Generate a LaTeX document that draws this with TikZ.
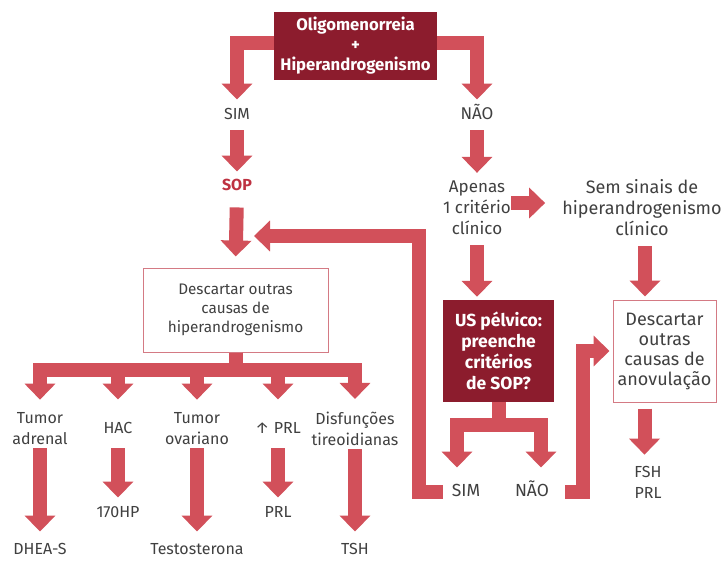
\documentclass[tikz,border=0pt]{standalone}
\usepackage{fontspec}
\setmainfont{Fira Sans}
\usetikzlibrary{arrows.meta}
\definecolor{bandred}{HTML}{D2505A}
\definecolor{darkred}{HTML}{8C1C2D}
\definecolor{sopred}{HTML}{BE3241}
\definecolor{txtgray}{HTML}{404040}
\definecolor{boxline}{HTML}{D47A84}
\begin{document}
\begin{tikzpicture}[x=1pt,y=-1pt,
 band/.style={draw=bandred, line width=14pt, line join=miter, -{Triangle[width=30pt,length=16pt]}},
 lbl/.style={text=txtgray, font=\fontsize{16}{21}\selectfont, align=center, inner sep=0pt},
 big/.style={font=\fontsize{17.5}{21}\selectfont},
 one/.style={text height=11.5pt, text depth=3pt},
 darkbox/.style={fill=darkred, text=white, font=\bfseries\fontsize{16.7}{20}\selectfont, align=center, inner sep=0pt},
 whitebox/.style={draw=boxline, line width=1pt, fill=white, text=txtgray, font=\fontsize{15.3}{19}\selectfont, align=center, inner sep=0pt}]
\useasboundingbox[fill=white] (0,0) rectangle (724,562);

\node[darkbox, minimum width=163pt, minimum height=68pt] (top) at (355.5,46) {Oligomenorreia\\+\\Hiperandrogenismo};
\node[lbl,one] (sim1) at (237,115) {SIM};
\node[lbl,one,font=\fontsize{17}{21}\selectfont] (nao1) at (477,115) {NÃO};
\node[lbl,one, text=sopred, font=\bfseries\fontsize{16}{21}\selectfont] (sop) at (237,186) {SOP};
\node[lbl,font=\fontsize{17}{21}\selectfont] (apenas) at (477,208) {Apenas\\1 critério\\clínico};
\node[lbl,font=\fontsize{18}{21}\selectfont] (sem) at (642,208) {Sem sinais de\\hiperandrogenismo\\clínico};
\node[whitebox, minimum width=185pt, minimum height=84pt] (desc1) at (235.5,310) {Descartar outras\\causas de\\hiperandrogenismo};
\node[darkbox, font=\bfseries\fontsize{17.5}{21}\selectfont, minimum width=111pt, minimum height=102pt] (us) at (498.5,351) {US pélvico:\\preenche\\critérios\\de SOP?};
\node[whitebox, font=\fontsize{18}{20}\selectfont, minimum width=103pt, minimum height=102pt] (desc2) at (664.5,351) {Descartar\\outras\\causas de\\anovulação};
\node[lbl,one,big] (sim2) at (466,492) {SIM};
\node[lbl,one,big] (nao2) at (532,492) {NÃO};
\node[lbl] (fsh) at (648,482) {FSH\\PRL};

\node[lbl] (ta) at (40,429) {Tumor\\adrenal};
\node[lbl,one] (hac) at (118,429) {HAC};
\node[lbl] (tov) at (197,429) {Tumor\\ovariano};
\node[lbl,one] (prl) at (278,429) {↑ PRL};
\node[lbl] (dis) at (355,429) {Disfunções\\tireoidianas};
\node[lbl,one] (dhea) at (40,550) {DHEA-S};
\node[lbl,one] (hp) at (118,513) {170HP};
\node[lbl,one] (testo) at (197,550) {Testosterona};
\node[lbl,one] (prl3) at (278,513) {PRL};
\node[lbl,one] (tsh) at (355,550) {TSH};

\coordinate (bar) at (235.5,369.5);
\coordinate (fork) at (498.5,425);
\coordinate (fbx) at (419,236);
\coordinate (fbtip) at (254,236);

% top
\draw[band, shorten >=8pt] ([yshift=3pt]top.west) -| (sim1.north);
\draw[band, shorten >=8pt] ([yshift=3pt]top.east) -| (nao1.north);
% left column
\draw[band, shorten <=8pt, shorten >=7pt] (sim1.south) -- (sop.north);
\draw[band, shorten <=14pt, shorten >=11pt] (sop.south) -- (desc1.north);
% distribution
\draw[band, shorten >=13pt] (desc1.south) -- (bar) -| (ta.north);
\draw[band, shorten >=22pt] (desc1.south) -- (bar) -| (hac.north);
\draw[band, shorten >=13pt] (desc1.south) -- (bar) -| (tov.north);
\draw[band, shorten >=22pt] (desc1.south) -- (bar) -| (prl.north);
\draw[band, shorten >=13pt] (desc1.south) -- (bar) -| (dis.north);
% second row
\draw[band, shorten <=3pt, shorten >=11pt] (ta.south) -- (dhea.north);
\draw[band, shorten <=12pt, shorten >=8pt] (hac.south) -- (hp.north);
\draw[band, shorten <=3pt, shorten >=11pt] (tov.south) -- (testo.north);
\draw[band, shorten <=12pt, shorten >=8pt] (prl.south) -- (prl3.north);
\draw[band, shorten <=3pt, shorten >=11pt] (dis.south) -- (tsh.north);
% right column
\draw[band, shorten <=8pt, shorten >=8pt] (nao1.south) -- (apenas.north);
\draw[band, shorten >=17pt] ([yshift=5pt]apenas.east) -- ([yshift=5pt]sem.west);
\draw[band, shorten <=10pt, shorten >=3pt] (apenas.south) -- (apenas.south |- us.north);
\draw[band, shorten <=10pt, shorten >=3pt] ([xshift=3pt]sem.south) -- ([xshift=3pt]sem.south |- desc2.north);
% fork
\draw[band, shorten >=17pt] (us.south) -- (fork) -| ([xshift=-9pt]sim2.north);
\draw[band, shorten >=17pt] (us.south) -- (fork) -| ([xshift=9pt]nao2.north);
% feedback
\draw[band, shorten <=9pt] (sim2.west) -| (fbx) -- (fbtip);
\draw[band, shorten <=16pt, shorten >=3pt] (nao2.east) -| ([xshift=-29.5pt]desc2.west) -- (desc2.west);
\draw[band, shorten <=6pt, shorten >=11pt] ([xshift=-20pt]desc2.south) -- ([xshift=-20pt]desc2.south |- fsh.north);
\end{tikzpicture}
\end{document}
